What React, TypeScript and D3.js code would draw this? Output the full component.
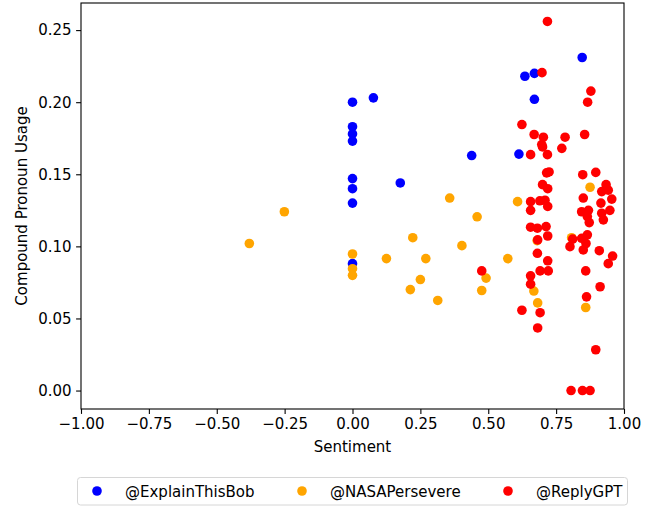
import React, { useEffect, useRef } from "react";
import * as d3 from "d3";

// sentiment / compound pronoun usage
const bobX = [0, 0.077, 0, 0, 0, 0.439, 0, 0, 0.176, 0, 0, 0.846, 0.635, 0.67, 0.67, 0.613];
const bobY = [0.2, 0.203, 0.183, 0.178, 0.173, 0.163, 0.147, 0.14, 0.144, 0.13, 0.088, 0.231, 0.218, 0.22, 0.202, 0.164];

const nasaX = [-0.38, -0.251, 0, 0, 0, 0.358, 0.608, 0.459, 0.222, 0.403, 0.125, 0.27, 0.572, 0.492, 0.25, 0.213, 0.476, 0.314, 0.875, 0.807, 0.68, 0.668, 0.682, 0.859];
const nasaY = [0.102, 0.124, 0.0947, 0.0845, 0.0799, 0.1335, 0.131, 0.1205, 0.106, 0.1005, 0.0915, 0.0915, 0.0915, 0.078, 0.077, 0.07, 0.0694, 0.0625, 0.141, 0.106, 0.104, 0.069, 0.0608, 0.0576];

const gptX = [0.718, 0.698, 0.878, 0.866, 0.624, 0.669, 0.703, 0.783, 0.855, 0.697, 0.771, 0.656, 0.718, 0.7,
  0.724, 0.715, 0.848, 0.896, 0.7, 0.719, 0.934, 0.918, 0.942, 0.955, 0.85, 0.656, 0.69, 0.709, 0.719, 0.656,
  0.915, 0.948, 0.844, 0.869, 0.918, 0.865, 0.924, 0.872, 0.656, 0.681, 0.713, 0.719, 0.682, 0.865, 0.844,
  0.811, 0.86, 0.801, 0.85, 0.909, 0.681, 0.958, 0.942, 0.719, 0.691, 0.721, 0.859, 0.656, 0.656, 0.912,
  0.862, 0.624, 0.691, 0.682, 0.896, 0.805, 0.847, 0.875, 0.476];
const gptY = [0.256, 0.2205, 0.2077, 0.2, 0.1845, 0.1776, 0.1757, 0.1757, 0.1776, 0.1706, 0.168, 0.1636, 0.1636, 0.169,
  0.1516, 0.151, 0.1497, 0.1513, 0.1428, 0.14, 0.1428, 0.138, 0.139, 0.1328, 0.1335, 0.131, 0.1316, 0.132, 0.1277, 0.125,
  0.13, 0.125, 0.124, 0.125, 0.123, 0.1207, 0.1184, 0.1165, 0.1133, 0.1126, 0.1137, 0.1072, 0.1045, 0.108, 0.1056,
  0.105, 0.102, 0.0998, 0.0975, 0.097, 0.0952, 0.0933, 0.088, 0.09, 0.083, 0.083, 0.083, 0.0796, 0.0738, 0.072,
  0.065, 0.0557, 0.054, 0.0434, 0.0283, 0, 0, 0, 0.083];

const seriesNames = ["@ExplainThisBob", "@NASAPersevere", "@ReplyGPT"];
const seriesColors = ["blue", "orange", "red"];
const xTicks = [-1, -0.75, -0.5, -0.25, 0, 0.25, 0.5, 0.75, 1];
const yTicks = [0, 0.05, 0.1, 0.15, 0.2, 0.25];

const width = 652;
const height = 508;
const margin = { top: 3, right: 28, bottom: 99, left: 81 };
const font = "DejaVu Sans, sans-serif";
const fontSize = "15px";

export default function App() {
  const ref = useRef<SVGSVGElement>(null);

  useEffect(() => {
    const svg = d3.select(ref.current);
    svg.selectAll("*").remove();
    const innerWidth = width - margin.left - margin.right;
    const innerHeight = height - margin.top - margin.bottom;

    const xScale = d3.scaleLinear().domain([-1, 1]).range([0, innerWidth]);
    const yScale = d3.scaleLinear().domain([-0.0128, 0.2688]).range([innerHeight, 0]);

    const g = svg.append("g").attr("transform", `translate(${margin.left}, ${margin.top})`);

    const series = [
      { x: bobX, y: bobY },
      { x: nasaX, y: nasaY },
      { x: gptX, y: gptY },
    ];
    series.forEach((s, i) => {
      g.append("g").selectAll("circle").data(s.x).join("circle")
        .attr("cx", d => xScale(d))
        .attr("cy", (d, j) => yScale(s.y[j]))
        .attr("r", 4.8)
        .attr("fill", seriesColors[i]);
    });

    const xAxis = d3.axisBottom(xScale).tickValues(xTicks).tickFormat(d3.format(".2f")).tickSize(4.9).tickPadding(4.5);
    const yAxis = d3.axisLeft(yScale).tickValues(yTicks).tickFormat(d3.format(".2f")).tickSize(4.9).tickPadding(4.5);

    const gx = g.append("g").attr("transform", `translate(0, ${innerHeight})`).call(xAxis);
    const gy = g.append("g").call(yAxis);
    [gx, gy].forEach(a => {
      a.select(".domain").remove();
      a.selectAll(".tick line").attr("stroke", "#000").attr("stroke-width", 1.1);
      a.selectAll(".tick text").attr("fill", "#000").style("font-family", font).style("font-size", fontSize);
    });

    // spines
    g.append("rect").attr("width", innerWidth).attr("height", innerHeight)
      .attr("fill", "none").attr("stroke", "#000").attr("stroke-width", 1.1);

    svg.append("text")
      .attr("x", margin.left + innerWidth / 2).attr("y", 452)
      .attr("text-anchor", "middle").style("font-family", font).style("font-size", fontSize)
      .text("Sentiment");

    svg.append("text")
      .attr("transform", `translate(27, ${margin.top + innerHeight / 2}) rotate(-90)`)
      .attr("text-anchor", "middle").style("font-family", font).style("font-size", fontSize)
      .text("Compound Pronoun Usage");

    // legend
    const legend = svg.append("g");
    legend.append("rect").attr("x", 77.5).attr("y", 477.5).attr("width", 550).attr("height", 27.5)
      .attr("rx", 3).attr("fill", "white").attr("stroke", "#d6d6d6").attr("stroke-width", 1);
    const itemX = [97, 302, 508];
    seriesNames.forEach((name, i) => {
      legend.append("circle").attr("cx", itemX[i]).attr("cy", 491).attr("r", 4.8).attr("fill", seriesColors[i]);
      legend.append("text").attr("x", itemX[i] + 28).attr("y", 496.5)
        .style("font-family", font).style("font-size", fontSize).attr("fill", "#000")
        .text(name);
    });
  }, []);

  return (
    <svg ref={ref} width={width} height={height}
      style={{ position: "absolute", left: 0, top: 0, background: "white" }} />
  );
}
